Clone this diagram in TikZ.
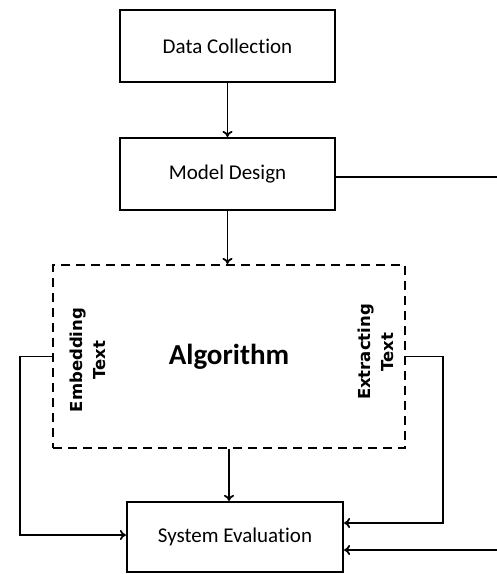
\documentclass[tikz,border=0pt]{standalone}
\usepackage{fontspec}
\setmainfont[Ligatures=NoCommon]{Carlito}
\newfontfamily\sidefont{DejaVu Sans}
\usetikzlibrary{positioning}
\usetikzlibrary{arrows.meta}

\begin{document}
\begin{tikzpicture}[x=1pt,y=-1pt,
  stagebox/.style={draw=black,line width=2.2pt,minimum width=215pt,minimum height=72pt,font=\fontsize{21}{25}\selectfont},
  algobox/.style={draw=black,dashed,dash pattern=on 9pt off 6pt,line width=2.2pt,minimum width=352pt,minimum height=183pt,font=\fontsize{29}{34}\selectfont\bfseries},
  sidelabel/.style={rotate=90,align=center,font=\sidefont\bfseries\fontsize{16.5}{23}\selectfont},
  flow/.style={line width=1.8pt,-{To[length=6pt,width=10pt]}},
  wire/.style={line width=1.8pt}]
\useasboundingbox (0,0) rectangle (497,574);

\node[stagebox] (dc) at (227.5,46) {Data Collection};
\node[stagebox] (md) at (227.5,174) {Model Design};
\node[algobox] (alg) at (229,356.5) {Algorithm};
\node[stagebox,minimum width=216pt,minimum height=70pt] (se) at (235,537) {System Evaluation};

\node[sidelabel] (emb) at (88,360) {Embedding\\Text};
\node[sidelabel] (ext) at (376,352) {Extracting\\Text};

\coordinate (outR) at (497,177);
\coordinate (loopR) at (443,523);
\coordinate (loopL) at (20,535);
\coordinate (inR) at (497,550);

\draw[flow] (dc.south) -- (md.north);
\draw[wire] (md.east |- outR) -- (outR);
\draw[flow] (md.south) -- (md.south |- alg.north);
\draw[flow] (alg.south) -- (alg.south |- se.north);
\draw[flow] (alg.west) -| (loopL) -- (loopL -| se.west);
\draw[flow] (alg.east) -| (loopR) -- (loopR -| se.east);
\draw[flow] (inR) -- (inR -| se.east);

\end{tikzpicture}
\end{document}
